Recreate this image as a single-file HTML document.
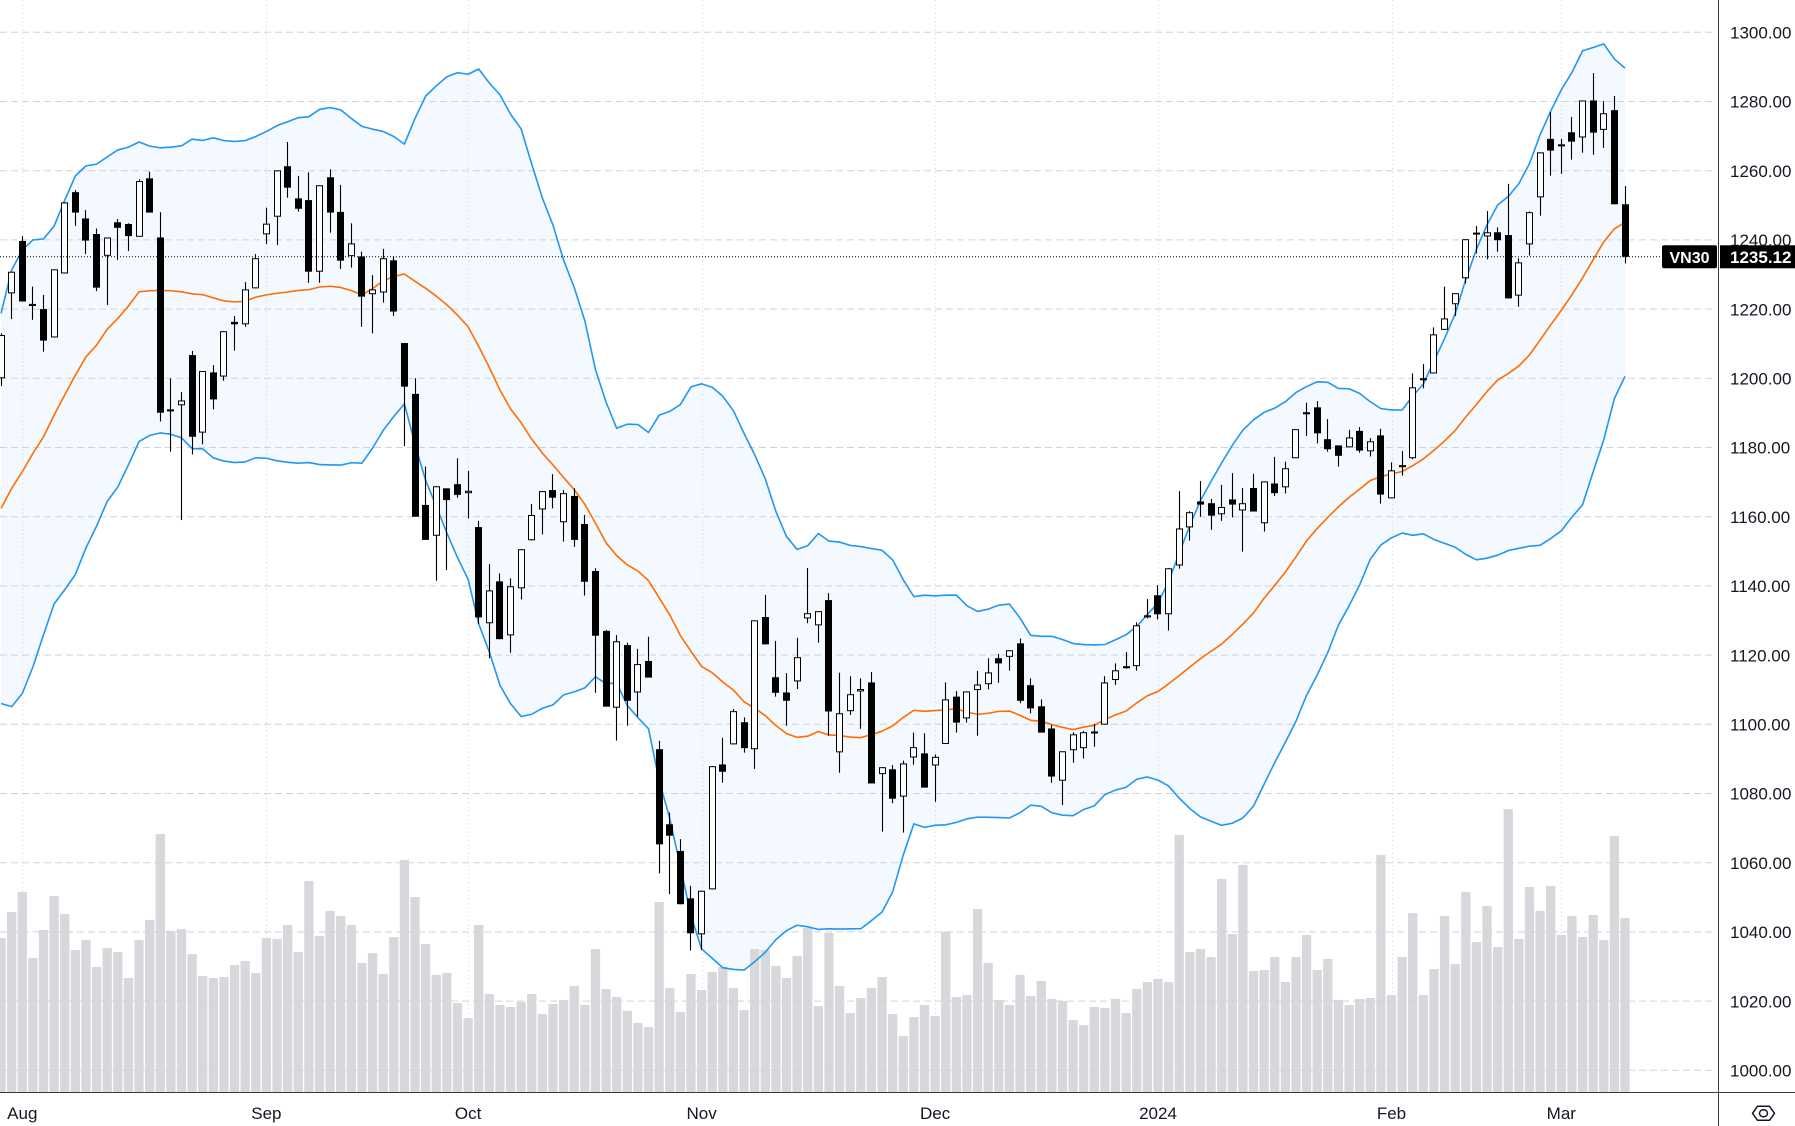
<!DOCTYPE html>
<html>
<head>
<meta charset="utf-8">
<style>
html,body{margin:0;padding:0;background:#fff;}
svg{display:block;}
text{font-family:"Liberation Sans",Arial,sans-serif;}
</style>
</head>
<body>
<svg id="c" xmlns="http://www.w3.org/2000/svg" width="1795" height="1126" viewBox="0 0 1795 1126"></svg>
<script>
const D=[
[1200.0,1213.0,1197.8,1212.5],[1224.55,1230.8,1217.1,1230.8],[1239.7,1241.1,1222.2,1222.2],[1220.9,1226.5,1216.9,1221.5],
[1220.0,1224.1,1207.7,1210.9],[1211.8,1231.5,1211.8,1231.5],[1230.3,1250.85,1230.3,1250.85],[1253.8,1254.4,1244.0,1247.9],
[1246.2,1248.6,1235.9,1239.8],[1241.7,1243.3,1225.2,1226.2],[1235.4,1240.7,1221.2,1240.7],[1245.1,1246.0,1234.2,1243.5],
[1244.6,1244.8,1236.8,1241.1],[1240.9,1257.5,1240.9,1257.0],[1257.8,1259.7,1247.9,1247.9],[1240.7,1248.0,1187.5,1190.06],
[1190.8,1200.0,1178.8,1190.3],[1192.2,1196.0,1159.0,1193.6],[1206.7,1207.9,1178.0,1183.1],[1184.3,1202.1,1180.9,1202.1],
[1201.7,1203.8,1191.0,1193.9],[1200.5,1213.6,1199.3,1213.6],[1216.3,1218.0,1208.0,1215.6],[1215.6,1227.8,1214.9,1225.7],
[1226.0,1235.9,1226.0,1234.7],[1241.6,1249.3,1238.8,1244.7],[1246.7,1260.1,1238.5,1260.1],[1261.3,1268.3,1252.2,1255.1],
[1252.0,1258.5,1248.2,1249.0],[1251.5,1259.5,1227.6,1230.8],[1230.8,1255.8,1227.6,1255.8],[1258.1,1260.4,1242.1,1247.9],
[1248.1,1255.9,1231.6,1234.0],[1235.3,1244.8,1232.0,1239.0],[1235.2,1236.6,1214.9,1223.6],[1224.3,1229.8,1213.0,1225.7],
[1224.8,1237.4,1221.9,1234.7],[1234.1,1235.3,1218.0,1219.3],[1210.2,1210.2,1180.4,1197.6],[1195.5,1200.0,1160.0,1160.0],
[1163.4,1174.5,1153.3,1153.3],[1154.5,1168.8,1141.5,1168.8],[1168.2,1168.2,1144.6,1164.8],[1169.4,1176.9,1165.5,1166.3],
[1166.8,1173.2,1159.5,1167.5],[1157.0,1158.8,1129.0,1130.9],[1129.2,1146.3,1119.1,1138.7],[1141.3,1143.6,1124.6,1124.6],
[1125.7,1142.2,1120.7,1139.9],[1139.3,1150.6,1136.1,1150.6],[1153.2,1163.7,1153.1,1160.5],[1162.1,1167.4,1154.9,1167.4],
[1167.7,1172.3,1162.4,1165.5],[1158.4,1167.7,1152.8,1166.8],[1166.0,1168.2,1151.3,1153.3],[1157.9,1160.5,1137.2,1141.2],
[1144.3,1145.1,1109.1,1125.6],[1127.0,1127.3,1105.1,1105.1],[1104.8,1125.8,1095.3,1124.0],[1122.9,1123.6,1099.6,1106.8],
[1109.2,1121.8,1102.2,1117.4],[1118.3,1125.3,1113.5,1113.5],[1092.8,1095.2,1056.9,1065.3],[1071.1,1074.5,1050.9,1067.8],
[1063.4,1066.8,1048.0,1048.0],[1049.7,1053.3,1034.6,1039.6],[1039.3,1051.9,1034.8,1051.9],[1052.3,1087.9,1052.3,1087.9],
[1088.4,1096.1,1083.1,1086.3],[1094.2,1104.4,1094.2,1103.8],[1100.6,1102.0,1091.8,1093.1],[1092.8,1130.05,1087.1,1130.05],
[1131.0,1137.4,1123.1,1123.1],[1113.6,1124.1,1108.0,1109.1],[1109.2,1114.8,1099.6,1106.8],[1112.4,1125.0,1110.2,1119.4],
[1130.6,1145.2,1129.2,1132.1],[1128.6,1132.7,1123.6,1132.7],[1135.9,1137.9,1096.7,1103.7],[1091.9,1114.9,1086.0,1103.2],
[1103.8,1113.9,1102.7,1108.7],[1109.5,1113.3,1098.7,1110.2],[1112.1,1115.1,1082.9,1082.9],[1085.6,1087.6,1069.0,1087.6],
[1087.0,1088.2,1077.2,1078.5],[1079.1,1089.5,1068.7,1088.7],[1090.4,1097.6,1088.3,1093.4],[1091.6,1097.4,1081.7,1081.7],
[1088.1,1091.3,1077.6,1090.6],[1094.3,1112.1,1094.3,1107.2],[1108.0,1109.6,1097.6,1100.5],[1101.7,1109.5,1100.5,1109.5],
[1109.9,1115.4,1096.7,1111.5],[1111.6,1119.1,1110.1,1115.0],[1119.1,1120.3,1112.0,1117.6],[1119.5,1121.4,1115.5,1121.4],
[1123.4,1124.8,1106.1,1106.8],[1111.3,1113.3,1103.2,1104.6],[1105.2,1107.2,1097.6,1097.6],[1098.8,1099.8,1083.1,1084.9],
[1083.7,1092.2,1076.7,1092.2],[1092.5,1097.7,1088.9,1097.1],[1093.1,1098.1,1090.1,1097.7],[1097.7,1100.1,1093.5,1097.3],
[1099.9,1113.9,1099.9,1112.1],[1112.8,1117.6,1111.4,1115.6],[1116.8,1120.9,1116.1,1116.2],[1116.8,1129.5,1115.5,1128.6],
[1130.9,1136.2,1130.6,1131.5],[1137.3,1140.2,1130.3,1131.8],[1131.8,1145.1,1127.1,1145.1],[1145.9,1167.4,1145.0,1156.6],
[1156.9,1161.6,1153.1,1161.3],[1164.4,1170.3,1160.0,1163.5],[1163.9,1165.1,1156.2,1160.3],[1160.7,1169.2,1158.8,1162.8],
[1165.0,1172.6,1159.8,1163.5],[1161.8,1168.3,1149.9,1163.9],[1168.3,1172.4,1161.5,1161.5],[1158.1,1170.2,1155.7,1170.2],
[1169.6,1177.3,1166.0,1166.8],[1168.5,1175.9,1166.7,1174.0],[1176.9,1185.3,1176.9,1185.3],[1190.2,1192.96,1183.3,1189.6],
[1191.6,1193.4,1181.2,1184.1],[1182.4,1188.2,1178.8,1179.5],[1180.6,1180.6,1174.5,1177.6],[1180.05,1185.1,1180.05,1182.9],
[1184.8,1185.9,1178.5,1179.1],[1178.9,1182.7,1177.4,1181.8],[1183.5,1185.4,1163.8,1166.4],[1165.3,1175.7,1165.3,1173.4],
[1174.3,1179.0,1171.9,1174.9],[1176.9,1201.4,1176.6,1197.4],[1199.8,1204.1,1197.1,1199.3],[1201.4,1214.7,1201.4,1212.7],
[1214.0,1226.5,1214.0,1217.3],[1221.4,1224.6,1218.0,1224.6],[1228.9,1240.2,1227.4,1240.2],[1241.9,1244.0,1236.1,1241.5],
[1241.0,1248.35,1234.4,1242.2],[1242.2,1243.6,1236.6,1239.9],[1241.4,1256.2,1223.1,1223.1],[1223.9,1234.7,1220.7,1233.5],
[1238.7,1248.2,1235.5,1248.0],[1252.3,1265.3,1247.0,1265.3],[1269.2,1276.96,1258.6,1265.8],[1267.4,1269.2,1259.1,1266.9],
[1271.1,1275.5,1263.2,1268.4],[1269.6,1280.3,1265.2,1280.3],[1280.3,1288.2,1264.6,1271.0],[1271.8,1280.1,1266.6,1276.6],
[1277.5,1281.6,1250.3,1250.3],[1250.3,1255.6,1233.2,1235.12]
];
const V=[414,336,276,474,390,288,342,450,420,501,
444,456,534,420,360,102,393,387,462,528,
534,531,495,483,519,414,417,375,456,243,
408,333,348,375,489,459,522,411,180,291,
432,525,519,609,654,375,582,615,621,606,
582,642,612,600,558,615,447,567,591,633,
669,681,306,564,636,522,570,516,501,564,
630,447,450,498,534,468,384,618,399,558,
639,594,564,531,642,708,651,615,648,395,
591,585,327,489,600,615,525,588,543,597,
603,660,675,621,624,597,639,567,546,537,
546,105,456,447,471,237,402,195,513,510,
471,546,471,405,510,477,600,615,597,594,
165,585,471,339,585,507,348,492,276,426,
318,441,27,417,261,333,258,405,348,411,
345,420,108,354];
const MID0=[1162.4,1168.2,1173.0,1178.3,1183.1,1189.4,1195.2,1200.9,1206.2,1209.6,1214.2,1217.3,1220.9,1225.0,1225.3,1225.4,1225.3,1225.0,1224.4];
const UP0=[1218.8,1231.3,1237.1,1240.0,1240.3,1244.0,1251.5,1258.5,1261.4,1261.9,1264.0,1266.0,1266.8,1268.3,1267.1,1266.6,1266.8,1267.2,1269.1];

const X=i=>1.07+10.614*i;
const Y=p=>1070.3-3.46*(p-1000);
const N=D.length;
const mid=[],up=[],lo=[];
for(let i=0;i<N;i++){
  if(i<19){mid[i]=MID0[i];up[i]=UP0[i];lo[i]=2*MID0[i]-UP0[i];}
  else{
    let s=0;for(let j=i-19;j<=i;j++)s+=D[j][3];
    const m=s/20;let v=0;for(let j=i-19;j<=i;j++)v+=(D[j][3]-m)*(D[j][3]-m);
    const sd=Math.sqrt(v/20);
    mid[i]=m;up[i]=m+2*sd;lo[i]=m-2*sd;
  }
}
let h='';
h+='<rect x="0" y="0" width="1795" height="1126" fill="#ffffff"/>';
let fp='';
for(let i=0;i<N;i++)fp+=(i?'L':'M')+X(i).toFixed(2)+' '+Y(up[i]).toFixed(2);
for(let i=N-1;i>=0;i--)fp+='L'+X(i).toFixed(2)+' '+Y(lo[i]).toFixed(2);
fp+='Z';
h+='<path d="'+fp+'" fill="rgba(33,150,243,0.055)" stroke="none"/>';
for(let i=0;i<N;i++){
  const top=800+V[i]/3;
  h+='<rect x="'+(X(i)-4.65).toFixed(2)+'" y="'+top.toFixed(2)+'" width="9.3" height="'+(1092-top).toFixed(2)+'" fill="#d7d8dc"/>';
}
for(let p=1000;p<=1300;p+=20){
  const y=Y(p);
  h+='<line x1="0" x2="1716" y1="'+y.toFixed(1)+'" y2="'+y.toFixed(1)+'" stroke="#d0d3db" stroke-width="1" stroke-dasharray="7 4"/>';
}
const months=[[2,'Aug'],[25,'Sep'],[44,'Oct'],[66,'Nov'],[88,'Dec'],[109,'2024'],[131,'Feb'],[147,'Mar']];
for(const [k] of months){
  const x=Math.round(X(k))+0.5;
  h+='<line x1="'+x+'" x2="'+x+'" y1="0" y2="1092" stroke="#d6d9e0" stroke-width="1" stroke-dasharray="1.2 3"/>';
}
function pl(arr,col){let d='';for(let i=0;i<N;i++)d+=(i?'L':'M')+X(i).toFixed(2)+' '+Y(arr[i]).toFixed(2);return '<path d="'+d+'" fill="none" stroke="'+col+'" stroke-width="1.6" stroke-linejoin="round"/>';}
h+=pl(up,'#2196f3');h+=pl(lo,'#2196f3');h+=pl(mid,'#ff6d00');
for(let i=0;i<N;i++){
  const [o,hi,l,c]=D[i];
  const cx=Math.round(X(i)-0.5)+0.5;
  h+='<line x1="'+cx+'" x2="'+cx+'" y1="'+Y(hi).toFixed(2)+'" y2="'+Y(l).toFixed(2)+'" stroke="#000" stroke-width="1.1"/>';
  let t=Y(Math.max(o,c)),b=Y(Math.min(o,c));
  if(c>=o){
    let hh=b-t; if(hh<2){t-=1;hh=2;}
    h+='<rect x="'+(cx-3)+'" y="'+(t+0.5).toFixed(2)+'" width="6" height="'+Math.max(hh-1,1).toFixed(2)+'" fill="#fff" stroke="#000" stroke-width="1"/>';
  } else {
    let hh=b-t; if(hh<2){t-=0.75;hh=2;}
    h+='<rect x="'+(cx-3.5)+'" y="'+t.toFixed(2)+'" width="7" height="'+hh.toFixed(2)+'" fill="#000"/>';
  }
}
const yc=Y(1235.12);
h+='<line x1="0" x2="1662" y1="'+yc.toFixed(1)+'" y2="'+yc.toFixed(1)+'" stroke="#000" stroke-width="1" stroke-dasharray="1 2"/>';
h+='<line x1="1718.5" x2="1718.5" y1="0" y2="1126" stroke="#363a45" stroke-width="1"/>';
h+='<line x1="0" x2="1795" y1="1092.5" y2="1092.5" stroke="#363a45" stroke-width="1"/>';
for(let p=1000;p<=1300;p+=20){
  const y=Y(p);
  h+='<text x="1730" y="'+(y+6.2).toFixed(1)+'" font-size="17" fill="#131722">'+p+'.00</text>';
}
h+='<rect x="1662" y="'+(yc-11.5).toFixed(1)+'" width="55" height="23" rx="2" fill="#000"/>';
h+='<text x="1689.5" y="'+(yc+6).toFixed(1)+'" font-size="16" font-weight="bold" fill="#fff" text-anchor="middle">VN30</text>';
h+='<rect x="1720" y="'+(yc-11.5).toFixed(1)+'" width="75" height="23" fill="#000"/>';
h+='<text x="1730" y="'+(yc+6).toFixed(1)+'" font-size="17" font-weight="bold" fill="#fff">1235.12</text>';
for(const [k,lab] of months){
  h+='<text x="'+X(k).toFixed(1)+'" y="1119" font-size="17" fill="#131722" text-anchor="middle">'+lab+'</text>';
}
h+='<path d="M1752.5 1113.3 L1757.5 1106.3 L1769.5 1106.3 L1774.5 1113.3 L1769.5 1120.3 L1757.5 1120.3 Z" fill="none" stroke="#131722" stroke-width="1.5" stroke-linejoin="round"/>';
h+='<ellipse cx="1763.5" cy="1113.3" rx="4" ry="3.6" fill="none" stroke="#131722" stroke-width="1.5"/>';
document.getElementById('c').innerHTML=h;
</script>
</body>
</html>
